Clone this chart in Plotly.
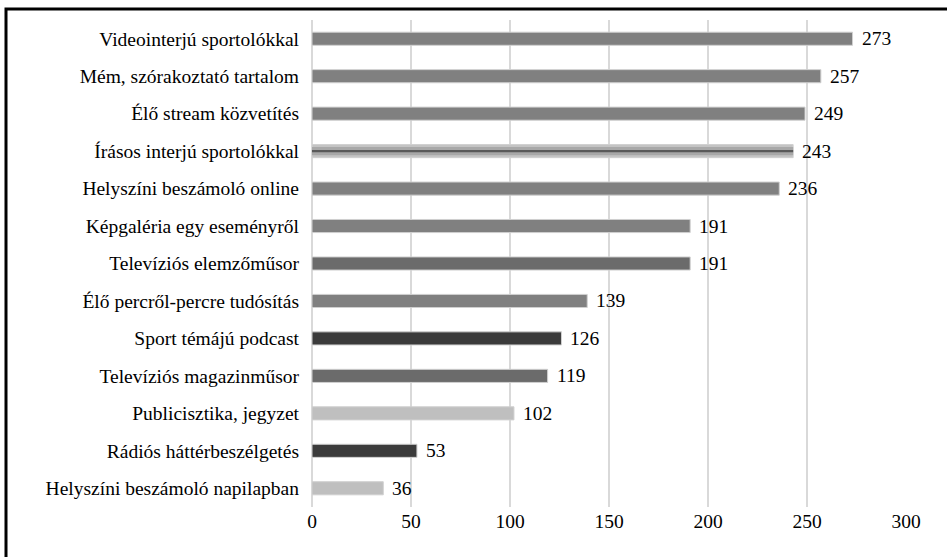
import plotly.graph_objects as go

categories = [
    "Videointerjú sportolókkal",
    "Mém, szórakoztató tartalom",
    "Élő stream közvetítés",
    "Írásos interjú sportolókkal",
    "Helyszíni beszámoló online",
    "Képgaléria egy eseményről",
    "Televíziós elemzőműsor",
    "Élő percről-percre tudósítás",
    "Sport témájú podcast",
    "Televíziós magazinműsor",
    "Publicisztika, jegyzet",
    "Rádiós háttérbeszélgetés",
    "Helyszíni beszámoló napilapban",
]
values = [273, 257, 249, 243, 236, 191, 191, 139, 126, 119, 102, 53, 36]
colors = [
    "#808080", "#808080", "#808080", "#c4c4c4", "#808080", "#808080",
    "#6b6b6b", "#808080", "#3b3b3b", "#6b6b6b", "#bfbfbf", "#3b3b3b", "#bfbfbf",
]
x_ticks = [0, 50, 100, 150, 200, 250, 300]

# striped bar (written interviews): layered inner bands
striped = "Írásos interjú sportolókkal"
striped_value = values[categories.index(striped)]

W, H = 947, 557
L, R, T, B = 312, 41, 20, 50
FONT = "Liberation Serif"
FS = 19.5

fig = go.Figure()
fig.add_trace(go.Bar(
    y=categories, x=values, orientation="h",
    marker=dict(color=colors, line=dict(color="#d0d0d0", width=1)),
    width=0.35, hoverinfo="x+y", showlegend=False,
))
for w, c in [(0.22, "#a8a8a8"), (0.06, "#5a5a5a")]:
    fig.add_trace(go.Bar(
        y=[striped], x=[striped_value], orientation="h",
        marker=dict(color=c, line=dict(width=0)),
        width=w, showlegend=False, hoverinfo="skip",
    ))

for cat, v in zip(categories, values):
    fig.add_annotation(
        x=v, y=cat, text=str(v), showarrow=False, xanchor="left",
        xshift=7, font=dict(family=FONT, size=FS, color="#000000"),
    )

# frame around the chart (top and left edges fall inside the canvas)
px = lambda p: (p - L) / (W - L - R)
py = lambda p: 1 - (p - T) / (H - T - B)
fig.add_shape(type="rect", xref="paper", yref="paper",
              x0=px(6), x1=px(W + 20), y0=py(H + 20), y1=py(9),
              line=dict(color="#000000", width=3), layer="above")

fig.update_layout(
    width=W, height=H,
    margin=dict(l=L, r=R, t=T, b=B),
    paper_bgcolor="#ffffff", plot_bgcolor="#ffffff",
    barmode="overlay",
    font=dict(family=FONT, size=FS, color="#000000"),
    xaxis=dict(
        range=[0, 300], tickvals=x_ticks, showgrid=True,
        gridcolor="#d9d9d9", gridwidth=1.5, zeroline=True,
        zerolinecolor="#d9d9d9", zerolinewidth=1.5, showline=False,
        ticks="", ticklabelstandoff=0,
        tickfont=dict(family=FONT, size=FS),
    ),
    yaxis=dict(
        categoryorder="array", categoryarray=categories[::-1],
        showgrid=False, ticks="", ticklabelstandoff=12,
        tickfont=dict(family=FONT, size=FS),
    ),
)

fig.write_html("out.html")
